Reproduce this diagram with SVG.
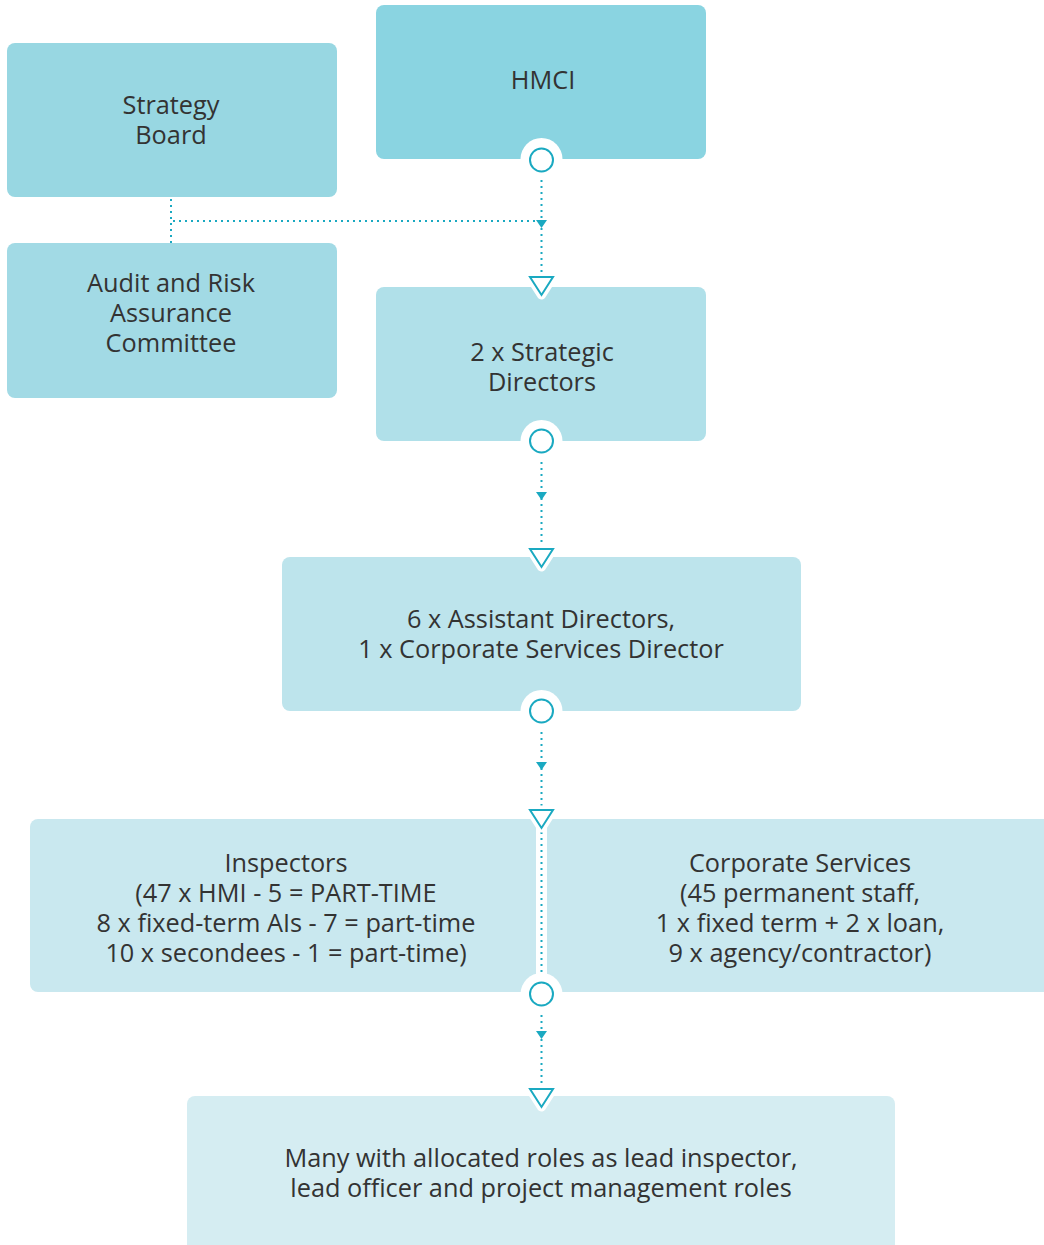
<svg xmlns="http://www.w3.org/2000/svg" width="1044" height="1245" viewBox="0 0 1044 1245">
<style>
.t{font-family:"Open Sans","Liberation Sans",sans-serif;font-size:25.3px;fill:#333;text-anchor:middle}
.dot{stroke:#1aa9c1;stroke-width:2;stroke-dasharray:2 4;fill:none}
.halo{fill:#fff}
.ring{fill:#fff;stroke:#1aa9c1;stroke-width:2}
.tri{fill:#fff;stroke:#1aa9c1;stroke-width:2;stroke-linejoin:miter}
.trih{fill:#fff;stroke:#fff;stroke-width:9;stroke-linejoin:round}
.arr{fill:#1aa9c1}
</style>
<rect width="1044" height="1245" fill="#fff"/>
<g id="strategy-board"><rect x="7" y="43" width="330" height="154" rx="8" fill="#98d7e2"/><text class="t" x="171" y="114">Strategy</text><text class="t" x="171" y="144">Board</text></g>
<g id="hmci"><rect x="376" y="5" width="330" height="154" rx="8" fill="#8ad4e1"/><text class="t" x="543" y="89">HMCI</text></g>
<g id="audit"><rect x="7" y="243" width="330" height="155" rx="8" fill="#a2dae5"/><text class="t" x="171" y="292">Audit and Risk</text><text class="t" x="171" y="322">Assurance</text><text class="t" x="171" y="352">Committee</text></g>
<g id="strategic-directors"><rect x="376" y="287" width="330" height="154" rx="8" fill="#b0e0e9"/><text class="t" x="542" y="361">2 x Strategic</text><text class="t" x="542" y="391">Directors</text></g>
<g id="assistant-directors"><rect x="282" y="557" width="519" height="154" rx="8" fill="#bde4ec"/><text class="t" x="541" y="628">6 x Assistant Directors,</text><text class="t" x="541" y="658">1 x Corporate Services Director</text></g>
<g id="inspectors-corporate"><rect x="30" y="819" width="1030" height="173" rx="8" fill="#c9e8ef"/><rect x="536" y="819" width="11" height="173" fill="#fff"/>
<text class="t" x="286" y="872">Inspectors</text><text class="t" x="286" y="902">(47 x HMI - 5 = PART-TIME</text><text class="t" x="286" y="932">8 x fixed-term AIs - 7 = part-time</text><text class="t" x="286" y="962">10 x secondees - 1 = part-time)</text>
<text class="t" x="800" y="872">Corporate Services</text><text class="t" x="800" y="902">(45 permanent staff,</text><text class="t" x="800" y="932">1 x fixed term + 2 x loan,</text><text class="t" x="800" y="962">9 x agency/contractor)</text></g>
<g id="many-roles"><rect x="187" y="1096" width="708" height="160" rx="8" fill="#d5edf2"/><text class="t" x="541" y="1167">Many with allocated roles as lead inspector,</text><text class="t" x="541" y="1197">lead officer and project management roles</text></g>
<g id="connectors">
<path class="dot" d="M171 199V243M173 221H536M541.5 174V276"/>
<path class="arr" d="M536 220h11l-5.5 8z"/>
<circle class="halo" cx="541.5" cy="159" r="21"/><circle class="ring" cx="541.5" cy="160" r="11.5"/>
<path class="trih" d="M530 277H553L541.5 295z"/><path class="tri" d="M530 277H553L541.5 295z"/>
<path class="dot" d="M541.5 456V547"/>
<path class="arr" d="M536 492h11l-5.5 8z"/>
<circle class="halo" cx="541.5" cy="441" r="21"/><circle class="ring" cx="541.5" cy="441" r="11.5"/>
<path class="trih" d="M530 549H553L541.5 567z"/><path class="tri" d="M530 549H553L541.5 567z"/>
<path class="dot" d="M541.5 726V808"/>
<path class="arr" d="M536 762h11l-5.5 8z"/>
<circle class="halo" cx="541.5" cy="711" r="21"/><circle class="ring" cx="541.5" cy="711" r="11.5"/>
<path class="dot" d="M541.5 832V975"/>
<path class="trih" d="M530 810H553L541.5 828z"/><path class="tri" d="M530 810H553L541.5 828z"/>
<path class="dot" d="M541.5 1009V1086"/>
<path class="arr" d="M536 1031h11l-5.5 8z"/>
<circle class="halo" cx="541.5" cy="994" r="21"/><circle class="ring" cx="541.5" cy="994" r="11.5"/>
<path class="trih" d="M530 1089H553L541.5 1107z"/><path class="tri" d="M530 1089H553L541.5 1107z"/>
</g>
</svg>
